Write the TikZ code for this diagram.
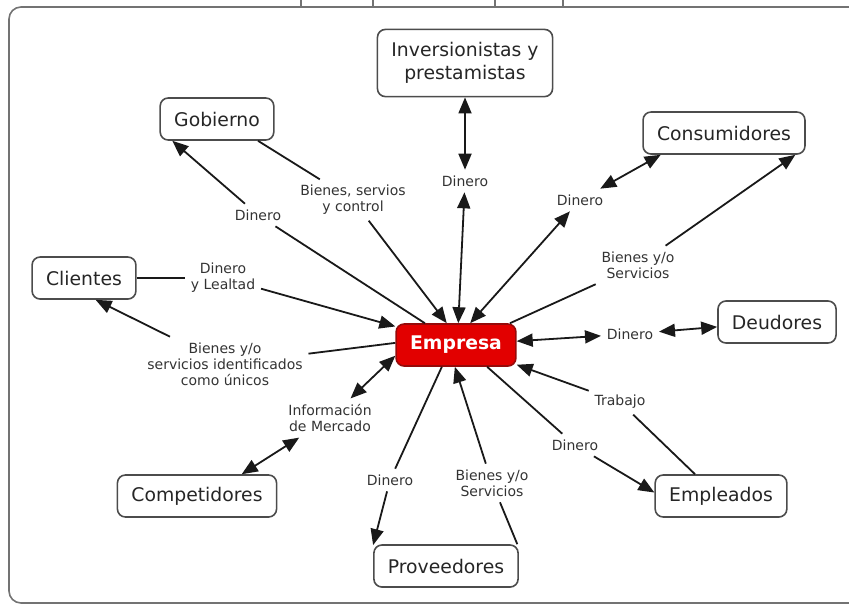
\documentclass[tikz,border=0pt]{standalone}
\usepackage{fontspec}
\setmainfont{DejaVu Sans}
\usetikzlibrary{arrows.meta}
\definecolor{empred}{RGB}{226,0,0}
\definecolor{empborder}{RGB}{150,10,10}
\begin{document}
\begin{tikzpicture}[x=0.5pt,y=-0.5pt,
  >={Triangle[length=8pt,width=6.5pt]},
  line width=0.9pt,color=black!90,
  concept/.style={draw=black!70,line width=0.8pt,rounded corners=4pt,fill=white,
    inner xsep=7pt,inner ysep=4pt,minimum height=21pt,align=center,
    font=\fontsize{9.4}{11.5}\selectfont,text=black!85},
  central/.style={concept,draw=empborder,fill=empred,text=white,
    font=\fontsize{9.4}{11.5}\selectfont\bfseries},
  link/.style={align=center,inner sep=2.5pt,font=\fontsize{7}{8}\selectfont,text=black!80},
  frame/.style={draw=black!55,line width=0.8pt}]
\path[use as bounding box] (0,0) rectangle (849,607);

% frame
\begin{scope}
\clip (0,0) rectangle (849,607);
\draw[frame,rounded corners=6pt] (9,7) rectangle (880,603);
\end{scope}
\foreach \x in {301,373,495,563}
  \draw[frame] (\x,0) -- (\x,7);

% concepts
\node[central] (empresa) at (456,345) {Empresa};
\node[concept,inner ysep=6.5pt] (inversionistas) at (465,63) {Inversionistas y\\prestamistas};
\node[concept] (gobierno) at (217,119) {Gobierno};
\node[concept] (consumidores) at (724,133) {Consumidores};
\node[concept] (clientes) at (84,278) {Clientes};
\node[concept] (deudores) at (777,322) {Deudores};
\node[concept] (competidores) at (197,496) {Competidores};
\node[concept] (proveedores) at (446,566) {Proveedores};
\node[concept] (empleados) at (721,496) {Empleados};

% linking phrases
\node[link] (dinInv) at (465,181) {Dinero};
\node[link] (bienesGob) at (353,200) {Bienes, servios\\y control};
\node[link] (dinGob) at (258,215) {Dinero};
\node[link] (dinCon) at (580,200) {Dinero};
\node[link] (bienesCon) at (638,265) {Bienes y/o\\Servicios};
\node[link] (dinLeal) at (223,278) {Dinero\\y Lealtad};
\node[link] (bienesCli) at (225,364) {Bienes y/o\\servicios identificados\\como únicos};
\node[link] (info) at (330,418) {Información\\de Mercado};
\node[link] (dinDeu) at (630,334) {Dinero};
\node[link] (trabajo) at (620,402) {Trabajo};
\node[link] (dinEmpl) at (575,445) {Dinero};
\node[link] (dinProv) at (390,480) {Dinero};
\node[link] (bienesProv) at (492,483) {Bienes y/o\\Servicios};

% connectors
\draw[<->] (inversionistas) -- (dinInv);
\draw[<->] (dinInv) -- (empresa.84);

\draw (empresa.145) -- (dinGob);
\draw[->] (dinGob) -- (gobierno.206);
\draw (gobierno.332) -- (bienesGob);
\draw[->] (bienesGob) -- (empresa.113);

\draw[<->] (empresa.57) -- (dinCon);
\draw[<->] (dinCon) -- (consumidores.199);
\draw (empresa.22) -- (bienesCon);
\draw[->] (bienesCon) -- (consumidores.343);

\draw (clientes) -- (dinLeal);
\draw[->] (dinLeal) -- (empresa.163);
\draw (empresa.178) -- (bienesCli);
\draw[->] (bienesCli) -- (clientes.298);

\draw[<->] (empresa.190) -- (info);
\draw[<->] (info) -- (competidores.26);

\draw[<->] (empresa) -- (dinDeu);
\draw[<->] (dinDeu) -- (deudores);

\draw (empleados.140) -- (trabajo);
\draw[->] (trabajo) -- (empresa.342);
\draw (empresa.325) -- (dinEmpl);
\draw[->] (dinEmpl) -- (empleados.177);

\draw (empresa.237) -- (dinProv);
\draw[->] (dinProv) -- (proveedores.164);
\draw (proveedores.17) -- (bienesProv);
\draw[->] (bienesProv) -- (empresa.267);
\end{tikzpicture}
\end{document}
